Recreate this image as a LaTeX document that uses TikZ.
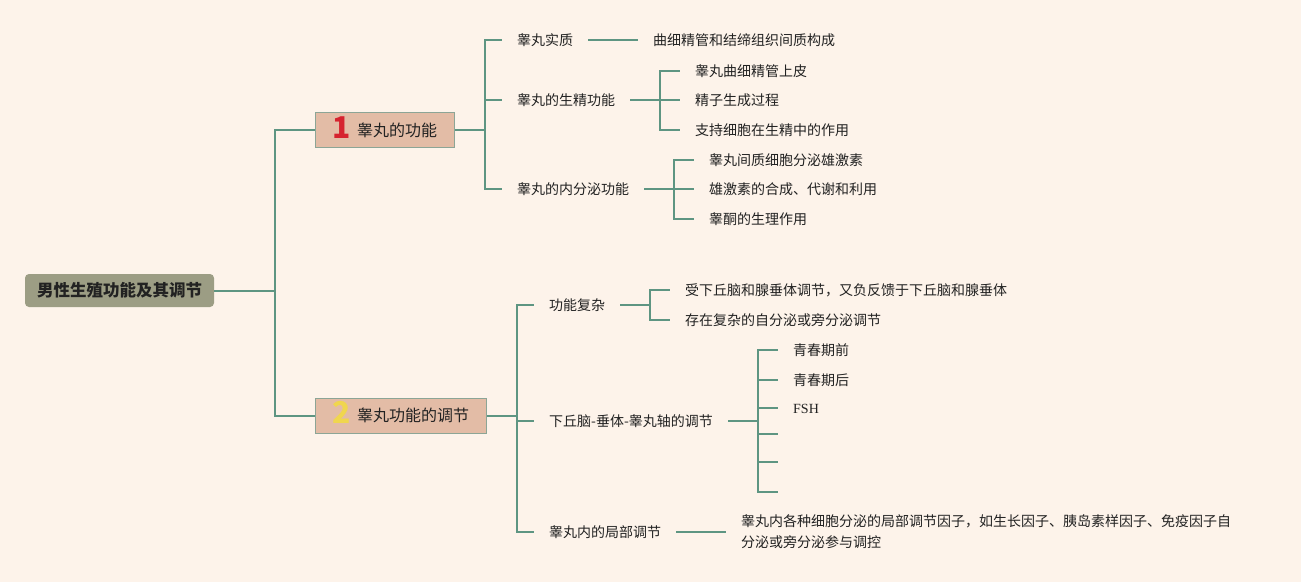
\documentclass[tikz,border=0pt]{standalone}
\usepackage{fontspec}
\setmainfont{Noto Sans CJK SC}
\newfontfamily\fshfont{Liberation Serif}
\usepackage{tikz}
\usetikzlibrary{positioning}
\usepackage{xcolor}
\definecolor{bgcol}{HTML}{FDF3EA}
\definecolor{linecol}{HTML}{5E9582}
\definecolor{rootcol}{HTML}{9C9D84}
\definecolor{topiccol}{HTML}{E3BCA6}
\definecolor{topicedge}{HTML}{8CA596}
\definecolor{numred}{HTML}{D6232F}
\definecolor{numyellow}{HTML}{F0D64E}
\definecolor{txtcol}{HTML}{222222}

\begin{document}
\begin{tikzpicture}[
  x=1pt, y=-1pt,
  every node/.style={text=txtcol},
  rootnode/.style={rectangle, fill=rootcol, rounded corners=4pt, minimum width=189pt, minimum height=33pt, font=\fontsize{16.5}{20}\selectfont\bfseries},
  topicnode/.style={rectangle, draw=topicedge, line width=0.8pt, fill=topiccol, anchor=west, minimum height=35pt, inner xsep=17.5pt, inner ysep=0pt, text height=12.2pt, text depth=0pt, font=\fontsize{16}{19}\selectfont},
  leafbase/.style={anchor=west, inner xsep=15pt, inner ysep=2pt, font=\fontsize{14}{21}\selectfont},
  leafnode/.style={leafbase, text height=10.6pt, text depth=0pt},
  link/.style={draw=linecol, line width=2pt}
]
\useasboundingbox[fill=bgcol] (0,0) rectangle (1301,582);

% Nodes
\node[rootnode] (root) at (119.5,290.5) {男性生殖功能及其调节};

\node[topicnode] (func) at (315,130) {\raisebox{-2pt}{\fontsize{30}{30}\selectfont\bfseries\color{numred}1}\hspace{6pt}睾丸的功能};
\node[topicnode] (regul) at (315,415.5) {\raisebox{-2pt}{\fontsize{30}{30}\selectfont\bfseries\color{numyellow}2}\hspace{6pt}睾丸功能的调节};

\node[leafnode] (tissue) at (502,40)  {睾丸实质};
\node[leafnode] (sperm)  at (502,100) {睾丸的生精功能};
\node[leafnode] (endo)   at (502,189) {睾丸的内分泌功能};

\node[leafnode] (tissue1) at (638,40) {曲细精管和结缔组织间质构成};

\node[leafnode] (sperm1) at (680,71)  {睾丸曲细精管上皮};
\node[leafnode] (sperm2) at (680,100) {精子生成过程};
\node[leafnode] (sperm3) at (680,130) {支持细胞在生精中的作用};

\node[leafnode] (endo1) at (694,160) {睾丸间质细胞分泌雄激素};
\node[leafnode] (endo2) at (694,189) {雄激素的合成、代谢和利用};
\node[leafnode] (endo3) at (694,219) {睾酮的生理作用};

\node[leafnode] (cplx)  at (534,305) {功能复杂};
\node[leafnode] (axis)  at (534,421) {下丘脑-垂体-睾丸轴的调节};
\node[leafnode] (local) at (534,532) {睾丸内的局部调节};

\node[leafnode] (cplx1) at (670,290) {受下丘脑和腺垂体调节，又负反馈于下丘脑和腺垂体};
\node[leafnode] (cplx2) at (670,320) {存在复杂的自分泌或旁分泌调节};

\node[leafnode] (axis1) at (778,350) {青春期前};
\node[leafnode] (axis2) at (778,380) {青春期后};
\node[leafnode] (axis3) at (778,408) {\fshfont FSH};
\coordinate (axis4) at (778,434);
\coordinate (axis5) at (778,462);
\coordinate (axis6) at (778,492);

\node[leafbase, align=left] (local1) at (726,532) {睾丸内各种细胞分泌的局部调节因子，如生长因子、胰岛素样因子、免疫因子自\\分泌或旁分泌参与调控};

% Edges
\draw[link] (root.east) -- ++(61,0) |- (func.west);
\draw[link] (root.east) -- ++(61,0) |- (regul.west);

\draw[link] (func.east) -- ++(30,0) |- (tissue.west);
\draw[link] (func.east) -- ++(30,0) |- (sperm.west);
\draw[link] (func.east) -- ++(30,0) |- (endo.west);

\draw[link] (tissue.east) -- (tissue1.west);

\draw[link] (sperm.east) -- ++(30,0) |- (sperm1.west);
\draw[link] (sperm.east) -- ++(30,0) |- (sperm2.west);
\draw[link] (sperm.east) -- ++(30,0) |- (sperm3.west);

\draw[link] (endo.east) -- ++(30,0) |- (endo1.west);
\draw[link] (endo.east) -- ++(30,0) |- (endo2.west);
\draw[link] (endo.east) -- ++(30,0) |- (endo3.west);

\draw[link] (regul.east) -- ++(30,0) |- (cplx.west);
\draw[link] (regul.east) -- ++(30,0) |- (axis.west);
\draw[link] (regul.east) -- ++(30,0) |- (local.west);

\draw[link] (cplx.east) -- ++(30,0) |- (cplx1.west);
\draw[link] (cplx.east) -- ++(30,0) |- (cplx2.west);

\draw[link] (axis.east) -- ++(30,0) |- (axis1.west);
\draw[link] (axis.east) -- ++(30,0) |- (axis2.west);
\draw[link] (axis.east) -- ++(30,0) |- (axis3.west);
\draw[link] (axis.east) -- ++(30,0) |- (axis4);
\draw[link] (axis.east) -- ++(30,0) |- (axis5);
\draw[link] (axis.east) -- ++(30,0) |- (axis6);

\draw[link] (local.east) -- (local1.west);

\end{tikzpicture}
\end{document}
